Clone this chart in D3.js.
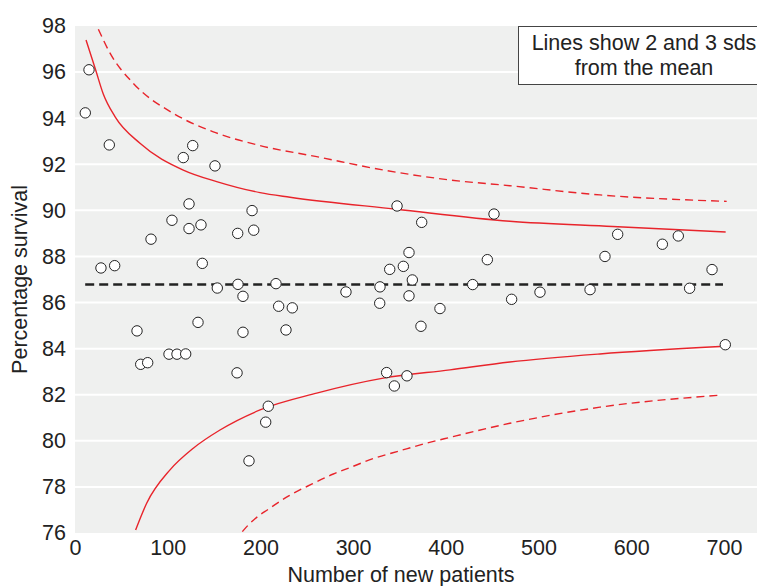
<!DOCTYPE html>
<html><head><meta charset="utf-8">
<script src="https://cdn.jsdelivr.net/npm/d3@7"></script>
<style>body{margin:0;background:#fff}svg{display:block}text{font-family:"Liberation Sans",Arial,sans-serif}</style>
</head><body><svg id="c" width="757" height="586"></svg>
<script>
const patients = [11.1,15.1,28,37,42.8,66.9,70.9,78.4,82,101.4,104.6,110,116.8,119.4,123,123,127,132.7,135.9,137.3,151,153.5,174.8,175.5,175.8,181.2,181.2,187.7,191,192.8,205.7,208.5,216.8,219.7,227.6,234.4,292.3,328.7,329,336.2,339.5,344.5,347.4,354.2,358.1,360.3,360.3,363.9,373.2,374,393.7,429,444.8,452,471,501.6,555.6,571.7,585.4,633.6,650.8,663,687.2,701.5];
const survival = [94.23,96.1,87.5,92.84,87.6,84.77,83.32,83.39,88.75,83.76,89.57,83.76,92.29,83.77,90.28,89.21,92.81,85.14,89.37,87.7,91.93,86.63,82.95,89.0,86.79,86.27,84.71,79.13,89.99,89.14,80.81,81.5,86.82,85.84,84.81,85.77,86.46,85.97,86.68,82.96,87.44,82.38,90.19,87.57,82.82,88.17,86.29,86.98,84.97,89.48,85.74,86.78,87.86,89.84,86.14,86.45,86.56,88.0,88.96,88.53,88.89,86.62,87.43,84.17];
const meanValue = 86.78;
const meanRange = [11, 699];
const upper2 = [[11.9,97.39],[22.3,96.09],[30.5,95.05],[43.1,94.07],[70.1,92.91],[116.8,91.75],[152.8,91.25],[199.6,90.77],[231.9,90.57],[347,90.05],[469,89.53],[580,89.3],[701.9,89.06]];
const lower2 = [[65.4,76.13],[77.3,77.29],[102.5,78.74],[127.6,79.68],[156.4,80.47],[199.6,81.34],[260.7,82.07],[332.6,82.72],[404.5,83.08],[469,83.42],[566.3,83.77],[695.8,84.09]];
const upper3 = [[25.2,97.86],[37.8,96.82],[62.9,95.51],[106,94.21],[149.2,93.41],[199.6,92.81],[260.7,92.33],[332.6,91.75],[404.5,91.32],[469,91.07],[566.3,90.67],[703,90.39]];
const lower3 = [[180.5,76.06],[187,76.35],[194.2,76.62],[208.5,77.03],[230.1,77.6],[255.3,78.12],[278.7,78.56],[296.7,78.84],[321.8,79.23],[350.6,79.57],[379.4,79.9],[404.5,80.15],[469,80.76],[566.3,81.46],[695.8,81.98]];
const xTicks = [0,100,200,300,400,500,600,700];
const yTicks = [76,78,80,82,84,86,88,90,92,94,96,98];
const legendLines = ["Lines show 2 and 3 sds","from the mean"];

const FS = 21.5;
const svg = d3.select("#c");
const L=75, R=757, T=26, B=533;
const x = d3.scaleLinear().domain([0,735.7]).range([L,R]);
const y = d3.scaleLinear().domain([76,98]).range([B,T]);

svg.append("rect").attr("x",L).attr("y",T).attr("width",R-L).attr("height",B-T).attr("fill","#eff0ef");
svg.append("defs").append("clipPath").attr("id","clip").append("rect").attr("x",L).attr("y",T).attr("width",R-L).attr("height",B-T);

svg.append("g").selectAll("line").data(yTicks.filter(d=>d>76&&d<98)).join("line")
  .attr("x1",L).attr("x2",R).attr("y1",d=>y(d)).attr("y2",d=>y(d))
  .attr("stroke","#fff").attr("stroke-width",2);

const yAxis = d3.axisLeft(y).tickValues(yTicks).tickSize(0).tickPadding(9);
const gy = svg.append("g").attr("transform",`translate(${L},0)`).call(yAxis);
gy.select(".domain").remove();
gy.selectAll("text").attr("font-size",FS).attr("fill","#222").style("font-family","Liberation Sans, Arial, sans-serif");
const xAxis = d3.axisBottom(x).tickValues(xTicks).tickSize(0).tickPadding(7);
const gx = svg.append("g").attr("transform",`translate(0,${B})`).call(xAxis);
gx.select(".domain").remove();
gx.selectAll("text").attr("font-size",FS).attr("fill","#222").style("font-family","Liberation Sans, Arial, sans-serif");

const plot = svg.append("g").attr("clip-path","url(#clip)");
const line = d3.line().x(d=>x(d[0])).y(d=>y(d[1])).curve(d3.curveMonotoneX);
const red = "#e8242b";
[[upper2,null],[lower2,null],[upper3,"8,5"],[lower3,"8,5"]].forEach(([data,dash])=>{
  plot.append("path").datum(data).attr("d",line).attr("fill","none")
    .attr("stroke",red).attr("stroke-width",1.4).attr("stroke-dasharray",dash);
});
plot.append("line").attr("x1",x(meanRange[0])).attr("x2",x(meanRange[1]))
  .attr("y1",y(meanValue)).attr("y2",y(meanValue))
  .attr("stroke","#222").attr("stroke-width",2.6).attr("stroke-dasharray","9,5");

plot.append("g").selectAll("circle").data(patients.map((p,i)=>[p,survival[i]])).join("circle")
  .attr("cx",d=>x(d[0])).attr("cy",d=>y(d[1])).attr("r",5.2)
  .attr("fill","#fff").attr("stroke","#222").attr("stroke-width",1);

svg.append("rect").attr("x",518.5).attr("y",26.5).attr("width",260).attr("height",58)
  .attr("fill","#fff").attr("stroke","#444").attr("stroke-width",1);
svg.append("g").selectAll("text").data(legendLines).join("text")
  .attr("x",644).attr("y",(d,i)=>50+i*25).attr("text-anchor","middle")
  .attr("font-size",FS).attr("fill","#222").text(d=>d);

svg.append("text").attr("x",401).attr("y",582).attr("text-anchor","middle")
  .attr("font-size",FS).attr("fill","#222").text("Number of new patients");
svg.append("text").attr("transform",`translate(27,${(T+B)/2}) rotate(-90)`).attr("text-anchor","middle")
  .attr("font-size",FS).attr("fill","#222").text("Percentage survival");
</script></body></html>
